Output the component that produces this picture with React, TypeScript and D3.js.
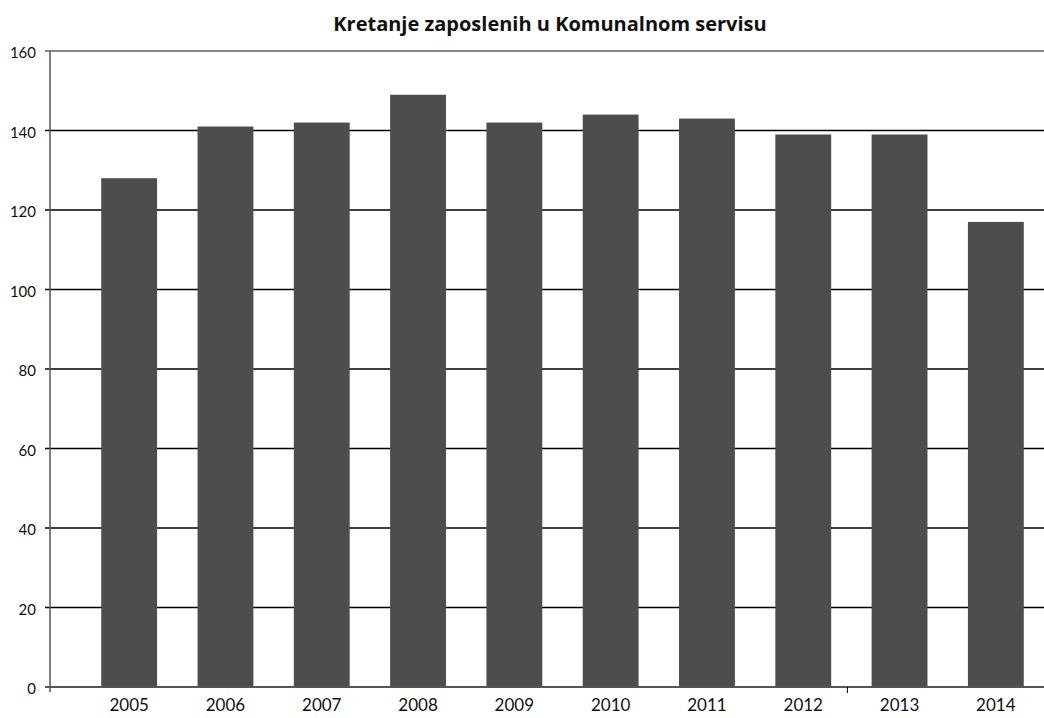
import React, { useEffect, useRef } from 'react'
import * as d3 from 'd3'

const years = ['2005', '2006', '2007', '2008', '2009', '2010', '2011', '2012', '2013', '2014']
const employees = [128, 141, 142, 149, 142, 144, 143, 139, 139, 117]
const yTicks = [0, 20, 40, 60, 80, 100, 120, 140, 160]
const title = 'Kretanje zaposlenih u Komunalnom servisu'

export default function App() {
  const svgRef = useRef<SVGSVGElement>(null)
  const width = 1044
  const height = 718

  useEffect(() => {
    if (!svgRef.current) return
    const svg = d3.select(svgRef.current)
    svg.selectAll('*').remove()

    const axisLeft = 50
    const y = d3.scaleLinear().domain([0, 160]).range([687, 51])
    const x = d3.scaleBand<string>().domain(years).range([81, 1044]).paddingInner(0.42).paddingOuter(0.21)

    // gridlines
    yTicks.forEach(t => {
      if (t === 0) return
      svg.append('line')
        .attr('x1', axisLeft - 5).attr('x2', width)
        .attr('y1', y(t)).attr('y2', y(t))
        .attr('stroke', t === 160 ? '#888' : '#000')
        .attr('stroke-width', t === 160 ? 2 : 1.5)
    })

    // bars
    svg.selectAll('rect.bar')
      .data(employees)
      .enter()
      .append('rect')
      .attr('class', 'bar')
      .attr('x', (_, i) => x(years[i])!)
      .attr('width', x.bandwidth())
      .attr('y', d => y(d))
      .attr('height', d => y(0) - y(d))
      .attr('fill', '#4d4d4d')

    // y axis
    svg.append('line')
      .attr('x1', axisLeft).attr('x2', axisLeft)
      .attr('y1', y(160)).attr('y2', y(0) + 5)
      .attr('stroke', '#555').attr('stroke-width', 1.5)

    // x axis
    svg.append('line')
      .attr('x1', axisLeft - 5).attr('x2', width)
      .attr('y1', y(0)).attr('y2', y(0))
      .attr('stroke', '#555').attr('stroke-width', 2)

    // one category tick between 2012 and 2013
    const tickX = x('2013')! - (x.step() - x.bandwidth()) / 2 - 4
    svg.append('line')
      .attr('x1', tickX).attr('x2', tickX)
      .attr('y1', y(0)).attr('y2', y(0) + 6)
      .attr('stroke', '#000').attr('stroke-width', 1)

    // y labels
    svg.selectAll('text.ylab')
      .data(yTicks)
      .enter()
      .append('text')
      .attr('class', 'ylab')
      .attr('x', 36)
      .attr('y', d => y(d) + 1)
      .attr('dominant-baseline', 'central')
      .attr('text-anchor', 'end')
      .attr('font-family', 'Lato, sans-serif')
      .attr('font-size', 15)
      .attr('fill', '#111')
      .text(d => d)

    // x labels
    svg.selectAll('text.xlab')
      .data(years)
      .enter()
      .append('text')
      .attr('class', 'xlab')
      .attr('x', d => x(d)! + x.bandwidth() / 2)
      .attr('y', 711)
      .attr('text-anchor', 'middle')
      .attr('font-family', 'Lato, sans-serif')
      .attr('font-size', 17)
      .attr('fill', '#111')
      .text(d => d)

    // title
    svg.append('text')
      .attr('x', 550)
      .attr('y', 31)
      .attr('text-anchor', 'middle')
      .attr('font-family', '"Open Sans", sans-serif')
      .attr('font-weight', 'bold')
      .attr('font-size', 20)
      .attr('fill', '#111')
      .text(title)
  }, [])

  return (
    <div style={{ position: 'absolute', left: 0, top: 0 }}>
      <svg ref={svgRef} width={width} height={height} style={{ display: 'block', background: '#fff' }} />
    </div>
  )
}
